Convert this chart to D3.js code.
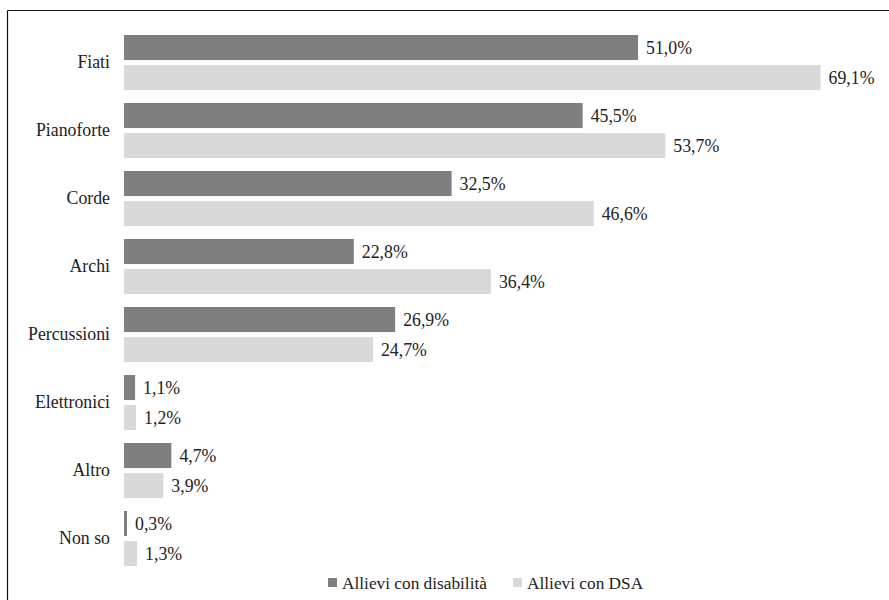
<!DOCTYPE html>
<html>
<head>
<meta charset="utf-8">
<script src="https://cdn.jsdelivr.net/npm/d3@7"></script>
<style>
  body { margin: 0; background: #fff; }
  svg { display: block; }
  svg text { font-family: 'Liberation Serif', Tinos, 'Times New Roman', Times, 'DejaVu Serif', serif; fill: #222; }
</style>
</head>
<body>
<svg id="chart" width="889" height="600"></svg>
<script>
const categories = ["Fiati", "Pianoforte", "Corde", "Archi", "Percussioni", "Elettronici", "Altro", "Non so"];
const seriesNames = ["Allievi con disabilità", "Allievi con DSA"];
const disabilita = [51.0, 45.5, 32.5, 22.8, 26.9, 1.1, 4.7, 0.3];
const dsa = [69.1, 53.7, 46.6, 36.4, 24.7, 1.2, 3.9, 1.3];
const colors = ["#7f7f7f", "#d9d9d9"];

const FONT = "'Liberation Serif', Tinos, 'Times New Roman', Times, 'DejaVu Serif', serif";
const fmt = v => v.toFixed(1).replace(".", ",") + "%";

const svg = d3.select("#chart");

// frame (top and left lines)
svg.append("line").attr("x1", 7.5).attr("x2", 889).attr("y1", 10.5).attr("y2", 10.5)
  .attr("stroke", "#111").attr("stroke-width", 1.2);
svg.append("line").attr("x1", 7.5).attr("x2", 7.5).attr("y1", 10.5).attr("y2", 600)
  .attr("stroke", "#111").attr("stroke-width", 1.2);

const x = d3.scaleLinear().domain([0, 100]).range([124, 124 + 1008]);

const p = 0.19;
const step = 68;
const y0 = 35 - p * step;
const y = d3.scaleBand().domain(categories)
  .range([y0, y0 + step * (categories.length + p)])
  .paddingInner(p).paddingOuter(p);

const ySub = d3.scaleBand().domain(seriesNames).range([0, y.bandwidth()]).paddingInner(1/6);

const data = categories.map((c, i) => ({ cat: c, vals: [disabilita[i], dsa[i]] }));

// category labels via axis
const yAxis = d3.axisLeft(y).tickSize(0).tickPadding(0);
const ag = svg.append("g").attr("transform", "translate(110,0)").call(yAxis)
  .attr("font-family", FONT).attr("font-size", 17.8);
ag.select(".domain").remove();
ag.selectAll("text").attr("fill", "#222");

const groups = svg.selectAll("g.grp").data(data).join("g")
  .attr("class", "grp")
  .attr("transform", d => `translate(0,${y(d.cat)})`);

groups.selectAll("rect").data(d => d.vals.map((v, k) => ({ v, k }))).join("rect")
  .attr("x", x(0))
  .attr("y", d => ySub(seriesNames[d.k]))
  .attr("width", d => x(d.v) - x(0))
  .attr("height", ySub.bandwidth())
  .attr("fill", d => colors[d.k]);

groups.selectAll("text.val").data(d => d.vals.map((v, k) => ({ v, k }))).join("text")
  .attr("class", "val")
  .attr("x", d => x(d.v) + 8)
  .attr("y", d => ySub(seriesNames[d.k]) + ySub.bandwidth() / 2)
  .attr("dy", "0.35em")
  .attr("font-family", FONT)
  .attr("font-size", 17.8)
  .text(d => fmt(d.v));

// legend
const legendX = [328, 513];
const lg = svg.selectAll("g.leg").data(seriesNames).join("g")
  .attr("class", "leg")
  .attr("transform", (d, i) => `translate(${legendX[i]},582.5)`);
lg.append("rect").attr("x", 0).attr("y", -4.5).attr("width", 9).attr("height", 9)
  .attr("fill", (d, i) => colors[i]);
lg.append("text").attr("x", 14).attr("y", 0).attr("dy", "0.35em")
  .attr("font-family", FONT).attr("font-size", 17.3).text(d => d);
</script>
</body>
</html>
